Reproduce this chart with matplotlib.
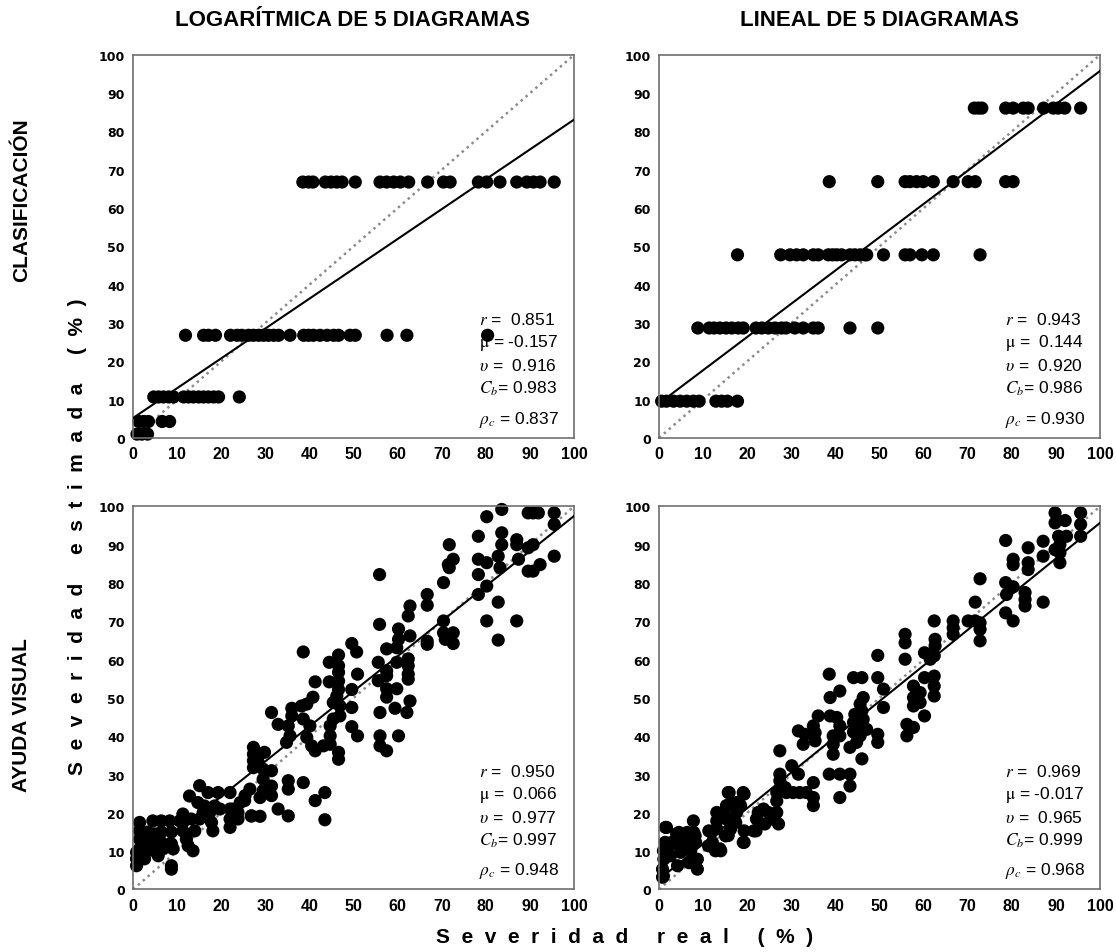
import matplotlib

matplotlib.use("Agg")

import matplotlib.pyplot as plt
import numpy as np
from matplotlib import font_manager

plt.rcParams["font.family"] = ["Liberation Sans", "DejaVu Sans"]
plt.rcParams["mathtext.fontset"] = "stix"

names = {f.name for f in font_manager.fontManager.ttflist}
NARROW = "Liberation Sans Narrow" if "Liberation Sans Narrow" in names else "Liberation Sans"

# ---- CLASIFICACIÓN, logarítmica: estimated value is one of 5 class levels
log_clas_levels = [1.0, 4.3, 10.7, 26.8, 66.8]
log_clas_real = [
    [0.9, 2.0, 3.3],
    [1.3, 2.4, 3.5, 6.6, 8.3],
    [4.7, 5.8, 6.9, 8.1, 9.2, 11.5, 12.6, 13.7, 14.9, 16.0, 17.1, 18.3, 19.4, 24.1],
    [11.9, 16.0, 17.1, 18.7, 22.1, 23.6, 24.7, 26.2, 27.3, 28.5, 29.6, 30.7, 31.9,
     33.0, 35.6, 38.7, 39.8, 40.9, 42.4, 44.0, 45.5, 46.6, 49.2, 50.4, 57.6, 62.1, 80.4],
    [38.5, 39.8, 40.8, 43.6, 44.9, 46.2, 47.4, 50.4, 56.0, 57.5, 59.1, 60.6, 62.5,
     66.8, 70.4, 71.9, 78.3, 80.2, 83.2, 87.0, 89.3, 90.8, 92.3, 95.5],
]

# ---- CLASIFICACIÓN, lineal
lin_clas_levels = [9.6, 28.7, 47.8, 66.9, 86.1]
lin_clas_real = [
    [0.6, 1.7, 3.3, 4.8, 6.3, 7.8, 9.1, 12.9, 14.2, 15.5, 17.8],
    [8.8, 11.4, 12.5, 13.8, 15.2, 16.5, 18.0, 19.1, 22.0, 23.3, 24.8, 26.3, 27.8,
     28.8, 30.8, 32.7, 35.0, 36.1, 43.3, 49.6],
    [17.8, 27.6, 29.7, 31.2, 32.7, 35.0, 36.1, 38.4, 39.4, 40.3, 41.4, 43.3, 44.4,
     45.6, 46.7, 47.1, 50.9, 55.8, 56.9, 59.6, 62.2, 72.8],
    [38.6, 49.6, 55.8, 56.9, 58.4, 59.9, 62.2, 66.7, 70.1, 71.7, 78.6, 80.3],
    [71.5, 72.4, 73.2, 78.6, 80.3, 82.6, 83.7, 87.2, 89.4, 90.5, 92.0, 95.6],
]

# ---- AYUDA VISUAL, logarítmica
log_vis_real = [
    83.6, 80.2, 89.6, 90.7, 91.9, 95.5, 95.5, 95.5, 87.0, 87.0, 89.6, 90.7, 83.6, 83.6,
    82.8, 78.3, 78.3, 80.2, 83.2, 87.4, 92.3, 89.6, 90.7, 78.3, 80.2, 78.3, 82.8, 80.2,
    87.0, 82.8, 71.7, 71.5, 72.6, 71.7, 70.4, 66.7, 66.7, 70.4, 70.4, 72.6, 70.8, 72.6,
    66.7, 66.7, 62.8, 62.4, 62.8, 60.2, 60.2, 59.8, 57.5, 55.9, 55.9, 49.6, 50.7, 55.6,
    55.6, 57.5, 57.5, 59.8, 62.4, 62.4, 62.4, 62.4, 62.8, 57.5, 59.8, 57.5, 59.4, 62.1,
    56.0, 56.0, 60.2, 56.0, 57.5, 50.9, 49.6, 49.6, 49.6, 50.9, 46.6, 44.5, 46.6, 46.6,
    44.5, 46.6, 46.6, 46.2, 45.4, 46.9, 46.9, 45.4, 44.7, 41.3, 38.6, 38.2, 39.4, 40.8,
    36.0, 36.0, 31.4, 32.9, 35.2, 35.6, 34.8, 38.6, 40.1, 39.4, 40.5, 41.3, 43.2, 44.7,
    44.7, 46.6, 46.6, 27.3, 27.3, 27.3, 27.3, 28.4, 29.8, 29.5, 31.4, 35.2, 35.2, 38.6,
    41.3, 43.5, 43.5, 35.2, 32.9, 31.4, 31.4, 29.5, 29.5, 28.8, 26.5, 25.4, 26.9, 28.8,
    24.3, 23.1, 22.0, 22.0, 22.0, 22.0, 25.3, 26.8, 19.3, 17.0, 15.1, 12.8, 14.7, 16.2,
    17.4, 18.5, 19.7, 23.8, 23.8, 18.1, 17.8, 11.3, 11.3, 11.3, 12.1, 12.5, 13.6, 10.6,
    14.0, 15.1, 15.9, 13.2, 8.7, 8.7, 1.5, 1.5, 1.5, 1.5, 0.8, 0.8, 0.8, 4.5, 6.4, 8.3,
    3.4, 4.9, 6.4, 8.7, 3.4, 4.9, 6.4, 8.7, 3.4, 5.3, 6.8, 9.1, 2.6, 5.7,
]
log_vis_est = [
    99.2, 97.3, 98.3, 98.3, 98.3, 98.3, 95.3, 87.0, 91.3, 90.0, 89.2, 90.0, 93.1, 90.0,
    87.0, 92.2, 86.2, 85.3, 84.0, 86.2, 84.8, 83.1, 83.1, 82.2, 79.2, 77.0, 75.0, 70.1,
    70.1, 65.1, 90.0, 84.8, 86.2, 84.0, 80.1, 77.0, 74.2, 70.1, 67.0, 67.0, 65.3, 64.2,
    64.8, 64.0, 74.0, 71.4, 66.2, 68.0, 65.3, 63.1, 62.8, 82.2, 69.2, 64.2, 62.0, 59.3,
    54.5, 57.1, 55.8, 59.3, 60.2, 58.4, 56.2, 54.9, 49.2, 52.4, 52.4, 50.2, 47.3, 46.2,
    46.2, 40.1, 40.1, 37.5, 36.2, 56.2, 52.2, 47.5, 42.5, 40.1, 61.2, 59.3, 58.4, 56.7,
    54.2, 54.4, 52.2, 50.5, 48.8, 47.9, 45.3, 44.5, 42.7, 54.2, 62.0, 47.9, 48.4, 50.2,
    47.3, 45.3, 46.2, 43.1, 42.7, 40.1, 38.4, 44.5, 42.7, 39.7, 37.5, 36.2, 37.5, 40.1,
    37.9, 35.8, 34.0, 37.1, 35.3, 33.6, 31.8, 33.2, 35.8, 31.4, 31.0, 28.4, 26.2, 27.9,
    23.2, 25.3, 18.2, 19.2, 21.0, 27.0, 24.5, 28.8, 25.8, 24.0, 26.2, 24.5, 19.2, 19.1,
    22.7, 21.0, 25.3, 21.0, 18.4, 16.2, 23.2, 19.2, 25.3, 25.3, 27.1, 24.4, 22.7, 21.8,
    20.1, 21.8, 21.0, 20.1, 18.4, 15.3, 17.5, 19.7, 17.5, 15.3, 13.1, 11.4, 10.1, 17.9,
    15.3, 18.4, 20.1, 18.4, 5.3, 6.2, 17.5, 15.3, 13.1, 10.6, 9.7, 8.0, 6.2, 17.9, 17.9, 17.9,
    15.0, 14.5, 15.0, 15.0, 12.3, 11.9, 12.3, 11.9, 10.2, 9.7, 10.6, 10.6, 8.0, 8.8,
]

# ---- AYUDA VISUAL, lineal
lin_vis_real = [
    89.8, 95.6, 89.8, 92.1, 95.6, 90.6, 92.4, 95.6, 90.9, 89.8, 90.9, 90.9, 87.1, 87.1,
    83.7, 83.7, 83.7, 80.3, 80.3, 78.6, 78.6, 80.3, 78.8, 83.0, 83.0, 83.0, 87.1, 78.6,
    80.3, 72.8, 71.7, 70.1, 71.7, 72.8, 72.8, 72.8, 66.7, 66.7, 66.7, 62.4, 62.6, 62.6,
    60.2, 61.5, 62.4, 55.8, 55.8, 55.8, 49.6, 60.2, 62.4, 62.4, 62.4, 57.7, 59.2, 57.7,
    59.2, 57.7, 60.2, 56.2, 57.7, 56.2, 49.6, 50.9, 50.9, 49.6, 49.6, 44.1, 46.0, 46.3,
    45.6, 46.0, 44.4, 46.3, 44.1, 46.0, 47.1, 44.1, 45.6, 44.8, 43.3, 46.0, 38.6, 38.8,
    41.0, 38.8, 40.3, 41.0, 39.5, 41.0, 39.5, 39.5, 36.1, 35.0, 35.4, 35.4, 33.1, 32.7,
    31.6, 27.4, 38.6, 41.0, 43.3, 43.3, 41.0, 35.0, 35.0, 35.0, 30.1, 31.6, 27.4, 27.4,
    28.6, 26.7, 26.7, 28.9, 30.4, 31.9, 33.4, 26.7, 25.5, 24.0, 27.1, 24.8, 23.7, 22.1,
    22.5, 22.0, 19.1, 19.1, 15.7, 17.6, 17.6, 15.3, 15.3, 15.3, 13.1, 13.1, 13.1, 11.9,
    11.2, 13.8, 15.7, 7.8, 8.2, 8.2, 6.7, 5.5, 4.0, 2.9, 4.8, 1.7, 1.4, 1.0, 1.5, 3.0,
    6.4, 8.3, 4.5, 7.9, 6.4, 1.1, 0.8, 0.8, 2.6, 4.9, 7.2, 8.7, 8.7, 6.8, 4.2, 1.0, 11.3,
    12.1, 12.8, 14.0, 19.3, 19.3, 15.1, 16.2, 17.4, 14.7, 16.2, 18.5, 15.9, 19.3, 21.5,
]
lin_vis_est = [
    98.3, 98.3, 95.7, 96.3, 95.3, 92.2, 92.2, 92.2, 90.0, 88.7, 87.9, 85.3, 90.9, 87.0,
    89.2, 85.3, 83.5, 86.2, 84.8, 91.1, 80.1, 79.0, 77.0, 77.5, 75.7, 74.0, 75.0, 72.2,
    70.1, 81.1, 75.0, 70.1, 70.1, 69.6, 67.9, 64.9, 70.1, 68.3, 66.6, 70.1, 65.3, 63.6,
    61.8, 60.1, 61.0, 66.6, 64.4, 60.1, 61.1, 55.3, 55.7, 53.1, 50.5, 53.1, 51.4, 50.1,
    48.8, 47.9, 45.3, 43.1, 42.3, 40.1, 55.3, 52.3, 47.5, 40.5, 38.4, 55.3, 55.3, 50.1,
    48.4, 46.6, 45.7, 44.4, 43.6, 42.7, 41.8, 41.1, 40.1, 38.4, 37.1, 34.1, 56.2, 50.1,
    51.8, 45.3, 44.9, 42.7, 40.1, 40.1, 37.9, 35.3, 45.3, 42.7, 40.9, 38.8, 40.5, 37.9,
    41.4, 36.2, 30.1, 30.1, 30.1, 27.0, 24.0, 27.9, 24.0, 21.9, 32.3, 30.1, 30.1, 28.4,
    26.6, 25.3, 23.1, 25.3, 25.3, 25.3, 25.3, 20.1, 18.4, 17.1, 17.1, 20.1, 21.0, 18.4,
    20.1, 15.3, 12.3, 25.3, 25.3, 22.7, 20.1, 21.9, 18.4, 14.1, 20.1, 17.9, 15.8, 14.9,
    11.4, 10.6, 14.1, 17.9, 14.0, 12.3, 13.2, 11.4, 14.5, 12.3, 12.3, 16.2, 12.3, 10.1, 16.2, 11.9,
    12.3, 12.3, 14.9, 14.9, 14.9, 7.9, 5.3, 3.2, 8.8, 9.7, 10.1, 7.9, 5.3, 7.0, 6.2, 3.5, 15.3,
    12.3, 10.1, 10.1, 12.3, 15.3, 14.0, 15.7, 17.5, 20.1, 22.3, 21.9, 25.3, 24.9, 15.3,
]

# fitted line per panel: (intercept, slope, x start)
fit_log_clas = (5.2, 0.779, 0.0)
fit_lin_clas = (9.0, 0.868, 1.4)
fit_log_vis = (6.0, 0.915, 0.5)
fit_lin_vis = (2.6, 0.931, 0.5)

stats_log_clas = ["0.851", "-0.157", "0.916", "0.983", "0.837"]
stats_lin_clas = ["0.943", "0.144", "0.920", "0.986", "0.930"]
stats_log_vis = ["0.950", "0.066", "0.977", "0.997", "0.948"]
stats_lin_vis = ["0.969", "-0.017", "0.965", "0.999", "0.968"]

col_titles = ["LOGARÍTMICA DE 5 DIAGRAMAS", "LINEAL DE 5 DIAGRAMAS"]
row_titles = ["CLASIFICACIÓN", "AYUDA VISUAL"]
x_label = "Severidad real (%)"
y_label = "Severidad estimada (%)"
ticks = list(range(0, 101, 10))


def levels_to_xy(levels, reals):
    xs, ys = [], []
    for lev, row in zip(levels, reals):
        xs += row
        ys += [lev] * len(row)
    return np.array(xs), np.array(ys)


def spaced(s):
    # wide letter spacing as in the original axis titles
    return "     ".join("  ".join(word) for word in s.split(" "))


def stat_lines(vals):
    def pad(v):
        return v if v.startswith("-") else " " + v
    return [
        r"$r$ = " + pad(vals[0]),
        r"$\mathrm{\mu}$ = " + pad(vals[1]),
        r"$\upsilon$ = " + pad(vals[2]),
        r"$C_b$= " + vals[3],
        r"$\rho_c$ = " + vals[4],
    ]


def draw_panel(ax, x, y, fit, stats):
    ax.plot([0, 100], [0, 100], color="#8c8c8c", linestyle=(0, (1, 1.6)), linewidth=1.8, zorder=1)
    ax.scatter(x, y, s=90, c="black", edgecolors="none", zorder=2, clip_on=False)
    b0, b1, xs = fit
    xx = np.array([xs, 100.0])
    ax.plot(xx, b0 + b1 * xx, color="black", linewidth=1.5, zorder=3)
    ax.set_xlim(0, 100)
    ax.set_ylim(0, 100)
    ax.set_xticks(ticks)
    ax.set_yticks(ticks)
    ax.tick_params(length=0, pad=6)
    for lab in ax.get_xticklabels():
        lab.set_family(NARROW)
        lab.set_fontweight("bold")
        lab.set_fontsize(11.5)
    for lab in ax.get_yticklabels():
        lab.set_family("DejaVu Sans")
        lab.set_fontweight("bold")
        lab.set_fontsize(9)
    for sp in ax.spines.values():
        sp.set_color("#6e6e6e")
        sp.set_linewidth(1.2)
    ys = [0.31, 0.25, 0.19, 0.13, 0.05]
    for txt, yy in zip(stat_lines(stats), ys):
        ax.text(0.785, yy, txt, transform=ax.transAxes, fontsize=12.5, va="center", ha="left")


fig = plt.figure(figsize=(11.16, 9.53), dpi=100)
w, h = 0.3952, 0.402
ax_tl = fig.add_axes([0.1192, 0.5394, w, h])
ax_tr = fig.add_axes([0.5905, 0.5394, w, h])
ax_bl = fig.add_axes([0.1192, 0.0656, w, h])
ax_br = fig.add_axes([0.5905, 0.0656, w, h])

x, y = levels_to_xy(log_clas_levels, log_clas_real)
draw_panel(ax_tl, x, y, fit_log_clas, stats_log_clas)
x, y = levels_to_xy(lin_clas_levels, lin_clas_real)
draw_panel(ax_tr, x, y, fit_lin_clas, stats_lin_clas)
draw_panel(ax_bl, np.array(log_vis_real), np.array(log_vis_est), fit_log_vis, stats_log_vis)
draw_panel(ax_br, np.array(lin_vis_real), np.array(lin_vis_est), fit_lin_vis, stats_lin_vis)

fs_head = 16.5 if NARROW == "Liberation Sans Narrow" else 16
fig.text(0.316, 0.978, col_titles[0], ha="center", va="center", fontsize=fs_head,
         fontweight="bold", family=NARROW)
fig.text(0.788, 0.978, col_titles[1], ha="center", va="center", fontsize=fs_head,
         fontweight="bold", family=NARROW)
fig.text(0.019, 0.79, row_titles[0], rotation=90, ha="center", va="center", fontsize=15,
         fontweight="bold", family=NARROW)
fig.text(0.019, 0.25, row_titles[1], rotation=90, ha="center", va="center", fontsize=15,
         fontweight="bold", family=NARROW)
fig.text(0.069, 0.437, spaced(y_label), rotation=90,
         ha="center", va="center", fontsize=15, fontweight="bold")
fig.text(0.56, 0.016, spaced(x_label), ha="center", va="center",
         fontsize=15, fontweight="bold")

fig.savefig("out.png", dpi=100)
plt.close(fig)
